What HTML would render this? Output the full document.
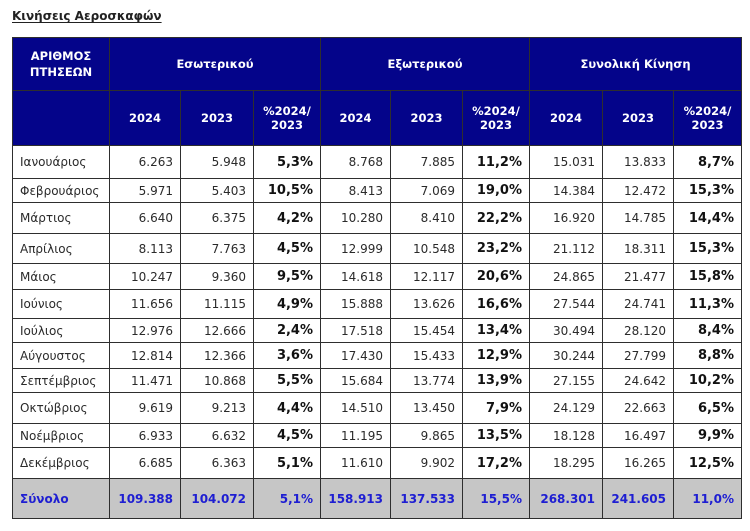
<!DOCTYPE html>
<html>
<head>
<meta charset="utf-8">
<style>
  html,body{margin:0;padding:0;background:#fff;}
  body{width:750px;height:531px;position:relative;overflow:hidden;font-family:"DejaVu Sans","Liberation Sans",sans-serif;}
  .title{position:absolute;left:12px;top:9px;font-size:12px;font-weight:bold;color:#222;text-decoration:underline;text-underline-offset:2px;}
  .grid{position:absolute;left:12px;top:37px;width:730px;height:482px;box-sizing:border-box;padding:1px;background:#2e2e2e;display:grid;
    grid-template-columns:96px 70px 72px 66px 69px 71px 66px 72px 70px 67px;
    grid-template-rows:52px 54px 32px 23px 30px 29px 25px 28px 23px 25px 23px 30px 23px 30px 39px;
    gap:1px;}
  .grid>div{display:flex;align-items:center;background:#fff;font-size:12px;color:#2a2a2a;box-sizing:border-box;white-space:nowrap;}
  .grid>div.h{background:#04048a;color:#fff;font-weight:bold;font-size:11.5px;justify-content:center;text-align:center;line-height:14px;}
  .grid>div.h1{line-height:16px;}
  .grid>div.m{justify-content:flex-start;padding-left:7px;}
  .grid>div.n{justify-content:flex-end;padding-right:7px;}
  .grid>div.p{justify-content:flex-end;padding-right:7px;font-weight:bold;color:#111;font-size:13px;}
  .grid>div.t{background:#c6c6c6;color:#1e1ed2;font-weight:bold;justify-content:flex-end;padding-right:7px;}
  .grid>div.tl{justify-content:flex-start;padding-left:7px;padding-right:0;}
</style>
</head>
<body>
<div class="title">Κινήσεις Αεροσκαφών</div>
<div class="grid">
  <div class="h h1">ΑΡΙΘΜΟΣ<br>ΠΤΗΣΕΩΝ</div>
  <div class="h" style="grid-column:2/5">Εσωτερικού</div>
  <div class="h" style="grid-column:5/8">Εξωτερικού</div>
  <div class="h" style="grid-column:8/11">Συνολική Κίνηση</div>

  <div class="h"></div>
  <div class="h">2024</div><div class="h">2023</div><div class="h">%2024/<br>2023</div>
  <div class="h">2024</div><div class="h">2023</div><div class="h">%2024/<br>2023</div>
  <div class="h">2024</div><div class="h">2023</div><div class="h">%2024/<br>2023</div>

  <div class="m">Ιανουάριος</div><div class="n">6.263</div><div class="n">5.948</div><div class="p">5,3%</div><div class="n">8.768</div><div class="n">7.885</div><div class="p">11,2%</div><div class="n">15.031</div><div class="n">13.833</div><div class="p">8,7%</div>
  <div class="m">Φεβρουάριος</div><div class="n">5.971</div><div class="n">5.403</div><div class="p">10,5%</div><div class="n">8.413</div><div class="n">7.069</div><div class="p">19,0%</div><div class="n">14.384</div><div class="n">12.472</div><div class="p">15,3%</div>
  <div class="m">Μάρτιος</div><div class="n">6.640</div><div class="n">6.375</div><div class="p">4,2%</div><div class="n">10.280</div><div class="n">8.410</div><div class="p">22,2%</div><div class="n">16.920</div><div class="n">14.785</div><div class="p">14,4%</div>
  <div class="m">Απρίλιος</div><div class="n">8.113</div><div class="n">7.763</div><div class="p">4,5%</div><div class="n">12.999</div><div class="n">10.548</div><div class="p">23,2%</div><div class="n">21.112</div><div class="n">18.311</div><div class="p">15,3%</div>
  <div class="m">Μάιος</div><div class="n">10.247</div><div class="n">9.360</div><div class="p">9,5%</div><div class="n">14.618</div><div class="n">12.117</div><div class="p">20,6%</div><div class="n">24.865</div><div class="n">21.477</div><div class="p">15,8%</div>
  <div class="m">Ιούνιος</div><div class="n">11.656</div><div class="n">11.115</div><div class="p">4,9%</div><div class="n">15.888</div><div class="n">13.626</div><div class="p">16,6%</div><div class="n">27.544</div><div class="n">24.741</div><div class="p">11,3%</div>
  <div class="m">Ιούλιος</div><div class="n">12.976</div><div class="n">12.666</div><div class="p">2,4%</div><div class="n">17.518</div><div class="n">15.454</div><div class="p">13,4%</div><div class="n">30.494</div><div class="n">28.120</div><div class="p">8,4%</div>
  <div class="m">Αύγουστος</div><div class="n">12.814</div><div class="n">12.366</div><div class="p">3,6%</div><div class="n">17.430</div><div class="n">15.433</div><div class="p">12,9%</div><div class="n">30.244</div><div class="n">27.799</div><div class="p">8,8%</div>
  <div class="m">Σεπτέμβριος</div><div class="n">11.471</div><div class="n">10.868</div><div class="p">5,5%</div><div class="n">15.684</div><div class="n">13.774</div><div class="p">13,9%</div><div class="n">27.155</div><div class="n">24.642</div><div class="p">10,2%</div>
  <div class="m">Οκτώβριος</div><div class="n">9.619</div><div class="n">9.213</div><div class="p">4,4%</div><div class="n">14.510</div><div class="n">13.450</div><div class="p">7,9%</div><div class="n">24.129</div><div class="n">22.663</div><div class="p">6,5%</div>
  <div class="m">Νοέμβριος</div><div class="n">6.933</div><div class="n">6.632</div><div class="p">4,5%</div><div class="n">11.195</div><div class="n">9.865</div><div class="p">13,5%</div><div class="n">18.128</div><div class="n">16.497</div><div class="p">9,9%</div>
  <div class="m">Δεκέμβριος</div><div class="n">6.685</div><div class="n">6.363</div><div class="p">5,1%</div><div class="n">11.610</div><div class="n">9.902</div><div class="p">17,2%</div><div class="n">18.295</div><div class="n">16.265</div><div class="p">12,5%</div>

  <div class="t tl">Σύνολο</div><div class="t">109.388</div><div class="t">104.072</div><div class="t">5,1%</div><div class="t">158.913</div><div class="t">137.533</div><div class="t">15,5%</div><div class="t">268.301</div><div class="t">241.605</div><div class="t">11,0%</div>
</div>
</body>
</html>
